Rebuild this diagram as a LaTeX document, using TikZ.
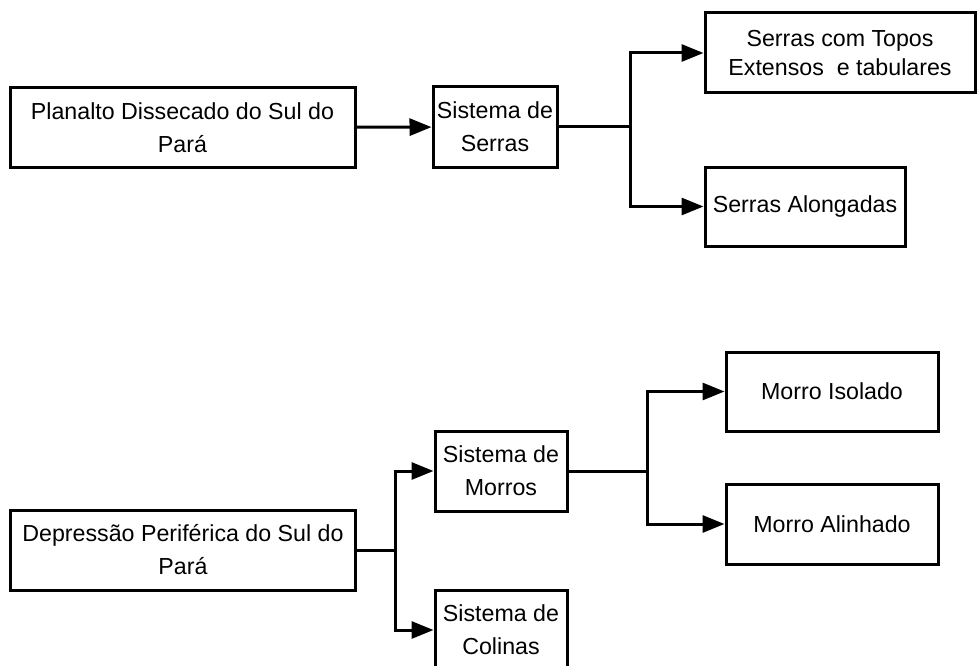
\documentclass[tikz,border=0pt]{standalone}
\usepackage{fontspec}
\setmainfont{Liberation Sans}
\usetikzlibrary{arrows.meta}
\begin{document}
\begin{tikzpicture}[x=1pt, y=-1pt, line width=3pt,
  every node/.style={draw, rectangle, align=center, inner sep=2pt, font=\fontsize{23.2}{33}\selectfont},
  arr/.style={-{Triangle[length=22pt,width=17pt]}}]
\useasboundingbox (0,0) rectangle (979,666);
\node[minimum width=345pt, minimum height=79pt] (planalto) at (182.5,127.5) {Planalto Dissecado do Sul do\\Pará};
\node[minimum width=124pt, minimum height=80pt] (serras) at (495,127) {Sistema de\\Serras};
\node[minimum width=270pt, minimum height=80pt, font=\fontsize{23.2}{29}\selectfont] (topos) at (840,53) {Serras com Topos\\Extensos\ \ e tabulares};
\node[minimum width=200pt, minimum height=79pt] (alongadas) at (805,206.5) {Serras Alongadas};
\node[minimum width=345pt, minimum height=80pt] (depressao) at (183,550) {Depressão Periférica do Sul do\\Pará};
\node[minimum width=132pt, minimum height=80pt] (morros) at (501,471) {Sistema de\\Morros};
\node[minimum width=132pt, minimum height=80pt] (colinas) at (501,630) {Sistema de\\Colinas};
\node[minimum width=212pt, minimum height=79pt] (isolado) at (832,391.5) {Morro Isolado};
\node[minimum width=212pt, minimum height=80pt] (alinhado) at (832,524) {Morro Alinhado};
\coordinate (jserras) at (630,127);
\coordinate (jdep) at (395,550);
\coordinate (jmorros) at (647,471);
\draw[arr] (planalto) -- (serras);
\draw (serras.east) -- (jserras);
\draw[arr] (jserras) |- (topos.west);
\draw[arr] (jserras) |- (alongadas.west);
\draw (depressao.east) -- (jdep);
\draw[arr] (jdep) |- (morros.west);
\draw[arr] (jdep) |- (colinas.west);
\draw (morros.east) -- (jmorros);
\draw[arr] (jmorros) |- (isolado.west);
\draw[arr] (jmorros) |- (alinhado.west);
\end{tikzpicture}
\end{document}
